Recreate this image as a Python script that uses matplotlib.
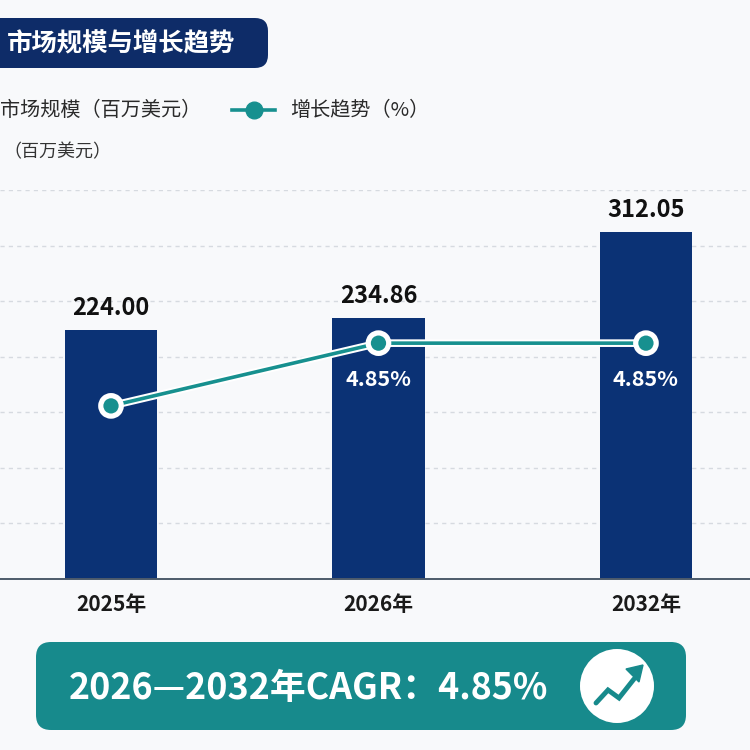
import matplotlib
matplotlib.use("Agg")
import matplotlib.pyplot as plt
from matplotlib.patches import FancyBboxPatch, Circle
from matplotlib.lines import Line2D
import matplotlib.patheffects as pe

plt.rcParams['font.family'] = ['Noto Sans CJK SC', 'DejaVu Sans']

# ---- data ----
years = ["2025年", "2026年", "2032年"]
market_size = [224.00, 234.86, 312.05]
growth = [3.56, 4.85, 4.85]
growth_labels = ["", "4.85%", "4.85%"]
title = "市场规模与增长趋势"
legend_bar = "市场规模（百万美元）"
legend_line = "增长趋势（%）"
y_label = "（百万美元）"
cagr_text = "2026—2032年CAGR：4.85%"

BG = "#f8f9fb"
NAVY = "#0b3275"
TITLE_NAVY = "#0e2c68"
TEAL = "#17908f"
BOX_TEAL = "#178a8c"

fig = plt.figure(figsize=(7.5, 7.5), dpi=100)
fig.patch.set_facecolor(BG)

# main chart axes
ax = fig.add_axes([0, 0.228, 1, 0.5187])
ax.set_facecolor("none")
x = list(range(len(years)))
ax.bar(x, market_size, width=0.345, color=NAVY, zorder=2)
ax.set_xlim(-0.415, 2.389)
ax.set_ylim(0, 350)
ax.set_yticks(range(0, 351, 50))
ax.set_yticklabels([])
ax.tick_params(axis='y', length=0)
ax.yaxis.grid(True, linestyle=(0, (3, 3)), color="#d6dae0", linewidth=1)
ax.set_axisbelow(True)
for s in ["top", "right", "left"]:
    ax.spines[s].set_visible(False)
ax.spines["bottom"].set_color("#4d5b6b")
ax.spines["bottom"].set_linewidth(1.4)
ax.set_xticks(x)
ax.set_xticklabels(years, fontsize=15, fontweight="semibold", color="#1a1a1a")
ax.tick_params(axis='x', length=0, pad=11)

for xi, v in zip(x, market_size):
    ax.annotate(f"{v:.2f}", (xi, v), xytext=(0, 7), textcoords="offset points",
                ha="center", va="bottom", fontsize=17, fontweight="bold", color="#111111")

ax2 = ax.twinx()
ax2.set_ylim(0, 8)
ax2.axis("off")
ax2.plot(x, growth, color=TEAL, lw=2.6, marker="o", markersize=13,
         markerfacecolor=TEAL, markeredgecolor="white", markeredgewidth=2, zorder=3,
         path_effects=[pe.Stroke(linewidth=5.5, foreground="white"), pe.Normal()])
for xi, g, lab in zip(x, growth, growth_labels):
    if lab:
        ax2.annotate(lab, (xi, g), xytext=(0, -26), textcoords="offset points",
                     ha="center", va="center", fontsize=15.5, fontweight="bold", color="white")

# overlay for decorations (pixel coords, y up)
ov = fig.add_axes([0, 0, 1, 1])
ov.set_xlim(0, 750)
ov.set_ylim(0, 750)
ov.axis("off")
ov.patch.set_alpha(0)

# title banner
ov.add_patch(FancyBboxPatch((-30, 750 - 68), 298, 50,
                            boxstyle="round,pad=0,rounding_size=13",
                            fc=TITLE_NAVY, ec="none"))
ov.text(7, 750 - 44, title, color="white", fontsize=18.3, fontweight="bold",
        ha="left", va="center")

# legend
ov.text(0, 750 - 110, legend_bar, fontsize=14.5, color="#2a2a2a", ha="left", va="center")
ov.add_line(Line2D([232, 275], [640, 640], color=TEAL, lw=2.6))
ov.add_line(Line2D([254], [640], marker="o", markersize=12, markerfacecolor=TEAL,
                   markeredgecolor=TEAL, lw=0))
ov.text(290, 750 - 110, legend_line, fontsize=14.5, color="#2a2a2a", ha="left", va="center")
ov.text(3, 750 - 152, y_label, fontsize=13, color="#333333", ha="left", va="center")

# CAGR box
ov.add_patch(FancyBboxPatch((36, 750 - 730), 650, 88,
                            boxstyle="round,pad=0,rounding_size=15",
                            fc=BOX_TEAL, ec="none"))
ov.text(69, 750 - 688, cagr_text, color="white", fontsize=25.8, fontweight="bold",
        ha="left", va="center")
ov.add_patch(Circle((617, 750 - 686), 37, fc="white", ec="none"))
zx = [596, 608, 619, 634]
zy = [750 - 703, 750 - 690, 750 - 698, 750 - 679]
ov.add_line(Line2D(zx, zy, color=BOX_TEAL, lw=3.5, solid_capstyle="round",
                   solid_joinstyle="miter"))
ov.add_patch(plt.Polygon([[643, 750 - 665], [626, 750 - 669], [639, 750 - 682]],
                         closed=True, fc=BOX_TEAL, ec=BOX_TEAL, lw=1))

fig.savefig("out.png", dpi=100, facecolor=BG)
